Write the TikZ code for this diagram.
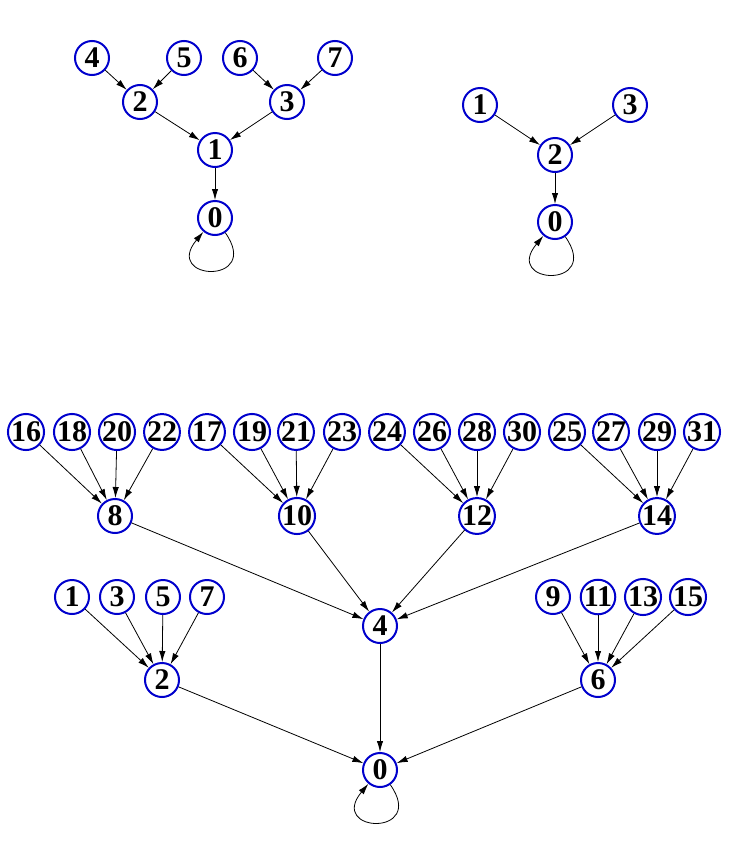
\documentclass[tikz,border=0pt]{standalone}
\usepackage{fontspec}
\setmainfont{Liberation Serif}
\usetikzlibrary{arrows.meta}

\begin{document}
\begin{tikzpicture}[x=0.5pt, y=-0.5pt, font=\fontsize{15}{15}\selectfont\bfseries,
  vtx/.style={circle, draw=vblue, line width=1pt, inner sep=0pt, minimum size=17pt},
  edge/.style={-{Latex[length=5.5pt,width=3.2pt]}, line width=0.4pt},
  selfloop/.style={edge, out=-55, in=-130, looseness=7.5}]

\definecolor{vblue}{HTML}{0000CC}
\useasboundingbox (0,0) rectangle (746,868);

% first tree
\node[vtx] (a4) at (92,58) {4};
\node[vtx] (a5) at (184,58) {5};
\node[vtx] (a6) at (240,58) {6};
\node[vtx] (a7) at (335,58) {7};
\node[vtx] (a2) at (140,102) {2};
\node[vtx] (a3) at (287,102) {3};
\node[vtx] (a1) at (215,150) {1};
\node[vtx] (a0) at (215,218) {0};
\draw[edge] (a4) -- (a2);
\draw[edge] (a5) -- (a2);
\draw[edge] (a6) -- (a3);
\draw[edge] (a7) -- (a3);
\draw[edge] (a2) -- (a1);
\draw[edge] (a3) -- (a1);
\draw[edge] (a1) -- (a0);
\draw[selfloop] (a0) to (a0);

% second tree
\node[vtx] (b1) at (480,105) {1};
\node[vtx] (b3) at (630,105) {3};
\node[vtx] (b2) at (555,155) {2};
\node[vtx] (b0) at (555,222) {0};
\draw[edge] (b1) -- (b2);
\draw[edge] (b3) -- (b2);
\draw[edge] (b2) -- (b0);
\draw[selfloop] (b0) to (b0);

% third tree
\foreach \n/\x in {16/26,18/72,20/117,22/162,17/207,19/252,21/296,23/342,
                   24/387,26/432,28/477,30/522,25/567,27/611,29/657,31/702}
  \node[vtx] (c\n) at (\x,432) {\n};
\foreach \n/\x in {1/72,3/117,5/163,7/207,9/553,11/598,13/643,15/688}
  \node[vtx] (c\n) at (\x,597) {\n};
\node[vtx] (c8) at (115,516) {8};
\node[vtx] (c10) at (297,516) {10};
\node[vtx] (c12) at (477,516) {12};
\node[vtx] (c14) at (657,516) {14};
\node[vtx] (c4) at (380,626) {4};
\node[vtx] (c2) at (162,680) {2};
\node[vtx] (c6) at (598,680) {6};
\node[vtx] (c0) at (380,770) {0};

\foreach \s/\t in {16/8,18/8,20/8,22/8,17/10,19/10,21/10,23/10,
                   24/12,26/12,28/12,30/12,25/14,27/14,29/14,31/14,
                   1/2,3/2,5/2,7/2,9/6,11/6,13/6,15/6,
                   8/4,10/4,12/4,14/4,2/0,4/0,6/0}
  \draw[edge] (c\s) -- (c\t);
\draw[selfloop] (c0) to (c0);

\end{tikzpicture}
\end{document}
